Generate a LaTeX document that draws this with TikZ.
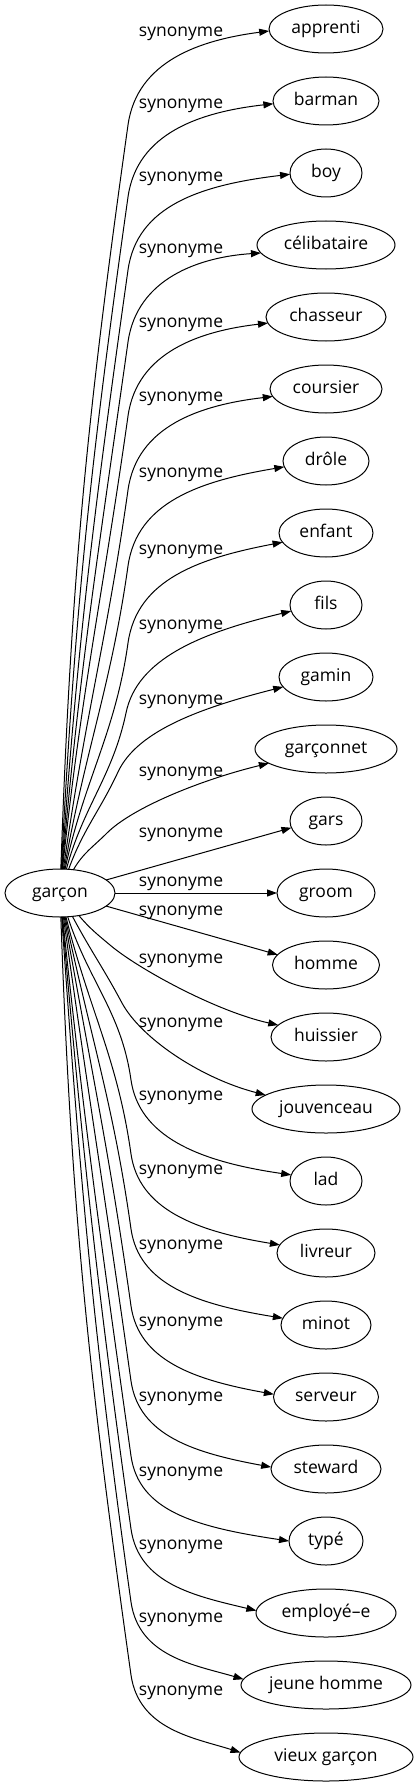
\documentclass[tikz,border=0pt]{standalone}
\usepackage{fontspec}
\setmainfont{Open Sans}
\usetikzlibrary{arrows.meta, positioning, shapes.geometric}

\begin{document}
\begin{tikzpicture}[
    x=1pt, y=1pt,
    every node/.style={font=\fontsize{17.5pt}{20pt}\selectfont, inner sep=0pt, outer sep=0pt, text height=13pt, text depth=3.6pt},
    word/.style={draw, ellipse, minimum width=72pt, minimum height=48pt},
    line width=1pt,
    ->, >={Triangle[length=10pt, width=7pt]}
  ]

  \useasboundingbox (0,0) rectangle (418,-1787);

  % Nodos
  \node[word, minimum width=110pt] (garcon) at (60,-893) {garçon};
  \node[word, minimum width=114pt] (apprenti) at (326,-29) {apprenti};
  \node[word, minimum width=106pt, below=24pt of apprenti] (barman) {barman};
  \node[word, below=24pt of barman] (boy) {boy};
  \node[word, minimum width=138pt, below=24pt of boy] (celibataire) {célibataire};
  \node[word, minimum width=120pt, below=24pt of celibataire] (chasseur) {chasseur};
  \node[word, minimum width=112pt, below=24pt of chasseur] (coursier) {coursier};
  \node[word, minimum width=86pt, below=24pt of coursier] (drole) {drôle};
  \node[word, minimum width=94pt, below=24pt of drole] (enfant) {enfant};
  \node[word, below=24pt of enfant] (fils) {fils};
  \node[word, minimum width=94pt, below=24pt of fils] (gamin) {gamin};
  \node[word, minimum width=142pt, below=24pt of gamin] (garconnet) {garçonnet};
  \node[word, below=24pt of garconnet] (gars) {gars};
  \node[word, minimum width=98pt, below=24pt of gars] (groom) {groom};
  \node[word, minimum width=107pt, below=24pt of groom] (homme) {homme};
  \node[word, minimum width=110pt, below=24pt of homme] (huissier) {huissier};
  \node[word, minimum width=148pt, below=24pt of huissier] (jouvenceau) {jouvenceau};
  \node[word, below=24pt of jouvenceau] (lad) {lad};
  \node[word, minimum width=98pt, below=24pt of lad] (livreur) {livreur};
  \node[word, minimum width=90pt, below=24pt of livreur] (minot) {minot};
  \node[word, minimum width=105pt, below=24pt of minot] (serveur) {serveur};
  \node[word, minimum width=110pt, below=24pt of serveur] (steward) {steward};
  \node[word, minimum width=74pt, below=24pt of steward] (type) {typé};
  \node[word, minimum width=140pt, below=24pt of type] (employe) {employé–e};
  \node[word, minimum width=170pt, below=24pt of employe] (jeunehomme) {jeune homme};
  \node[word, minimum width=174pt, below=24pt of jeunehomme] (vieuxgarcon) {vieux garçon};

  % Etiquetas
  \node (syn1) at (181,-32) {synonyme};
  \node (syn2) at (181,-104) {synonyme};
  \node (syn3) at (181,-177) {synonyme};
  \node (syn4) at (181,-249) {synonyme};
  \node (syn5) at (181,-323) {synonyme};
  \node (syn6) at (181,-397) {synonyme};
  \node (syn7) at (181,-473) {synonyme};
  \node (syn8) at (181,-550) {synonyme};
  \node (syn9) at (181,-625) {synonyme};
  \node (syn10) at (181,-700) {synonyme};
  \node (syn11) at (181,-772) {synonyme};
  \node (syn12) at (181,-833) {synonyme};
  \node (syn13) at (181,-882) {synonyme};
  \node (syn14) at (181,-911) {synonyme};
  \node (syn15) at (181,-959) {synonyme};
  \node (syn16) at (181,-1023) {synonyme};
  \node (syn17) at (181,-1096) {synonyme};
  \node (syn18) at (181,-1170) {synonyme};
  \node (syn19) at (181,-1245) {synonyme};
  \node (syn20) at (181,-1322) {synonyme};
  \node (syn21) at (181,-1397) {synonyme};
  \node (syn22) at (181,-1472) {synonyme};
  \node (syn23) at (181,-1545) {synonyme};
  \node (syn24) at (181,-1618) {synonyme};
  \node (syn25) at (181,-1691) {synonyme};

  % Aristas
  \draw (garcon) to[out=88, in=262] (128,-125) .. controls (137,-61) and (200,-40) .. (apprenti.182);
  \draw (garcon) to[out=87, in=262] (128,-197) .. controls (137,-133) and (200,-112) .. (barman.183);
  \draw (garcon) to[out=86, in=262] (128,-270) .. controls (137,-206) and (200,-185) .. (boy.182);
  \draw (garcon) to[out=85, in=262] (128,-342) .. controls (137,-278) and (200,-257) .. (celibataire.187);
  \draw (garcon) to[out=84, in=262] (128,-416) .. controls (137,-352) and (200,-331) .. (chasseur.186);
  \draw (garcon) to[out=82, in=262] (128,-490) .. controls (137,-426) and (200,-405) .. (coursier.188);
  \draw (garcon) to[out=80, in=262] (128,-566) .. controls (137,-502) and (200,-481) .. (drole.188);
  \draw (garcon) to[out=78, in=262] (128,-643) .. controls (137,-579) and (200,-558) .. (enfant.192);
  \draw (garcon) to[out=75, in=258] (126,-713) .. controls (137,-659) and (200,-633) .. (fils.190);
  \draw (garcon) to[out=70, in=245] (118,-772) .. controls (137,-731) and (200,-708) .. (gamin.193);
  \draw (garcon) to[out=60, in=225] (107,-833) .. controls (132,-808) and (200,-780) .. (garconnet.194);
  \draw (garcon) -- (gars.191);
  \draw (garcon) -- (groom);
  \draw (garcon) -- (homme.168);
  \draw (garcon) to[out=-50, in=140] (110,-945) .. controls (137,-968) and (215,-1011) .. (huissier.166);
  \draw (garcon) to[out=-62, in=118] (122,-1003) .. controls (141,-1038) and (200,-1078) .. (jouvenceau.167);
  \draw (garcon) to[out=-72, in=98] (131,-1080) .. controls (139,-1135) and (195,-1161) .. (lad.170);
  \draw (garcon) to[out=-76, in=98] (131,-1154) .. controls (139,-1209) and (195,-1231) .. (livreur.170);
  \draw (garcon) to[out=-78, in=98] (131,-1229) .. controls (139,-1284) and (195,-1304) .. (minot.171);
  \draw (garcon) to[out=-80, in=98] (131,-1306) .. controls (139,-1361) and (195,-1380) .. (serveur.177);
  \draw (garcon) to[out=-82, in=98] (131,-1381) .. controls (139,-1436) and (195,-1453) .. (steward.178);
  \draw (garcon) to[out=-84, in=98] (131,-1456) .. controls (139,-1511) and (195,-1527) .. (type.west);
  \draw (garcon) to[out=-85, in=98] (131,-1529) .. controls (139,-1584) and (195,-1596) .. (employe.178);
  \draw (garcon) to[out=-86, in=98] (131,-1602) .. controls (139,-1657) and (195,-1665) .. (jeunehomme.176);
  \draw (garcon) to[out=-88, in=98] (131,-1675) .. controls (139,-1730) and (195,-1738) .. (vieuxgarcon.177);

\end{tikzpicture}
\end{document}
